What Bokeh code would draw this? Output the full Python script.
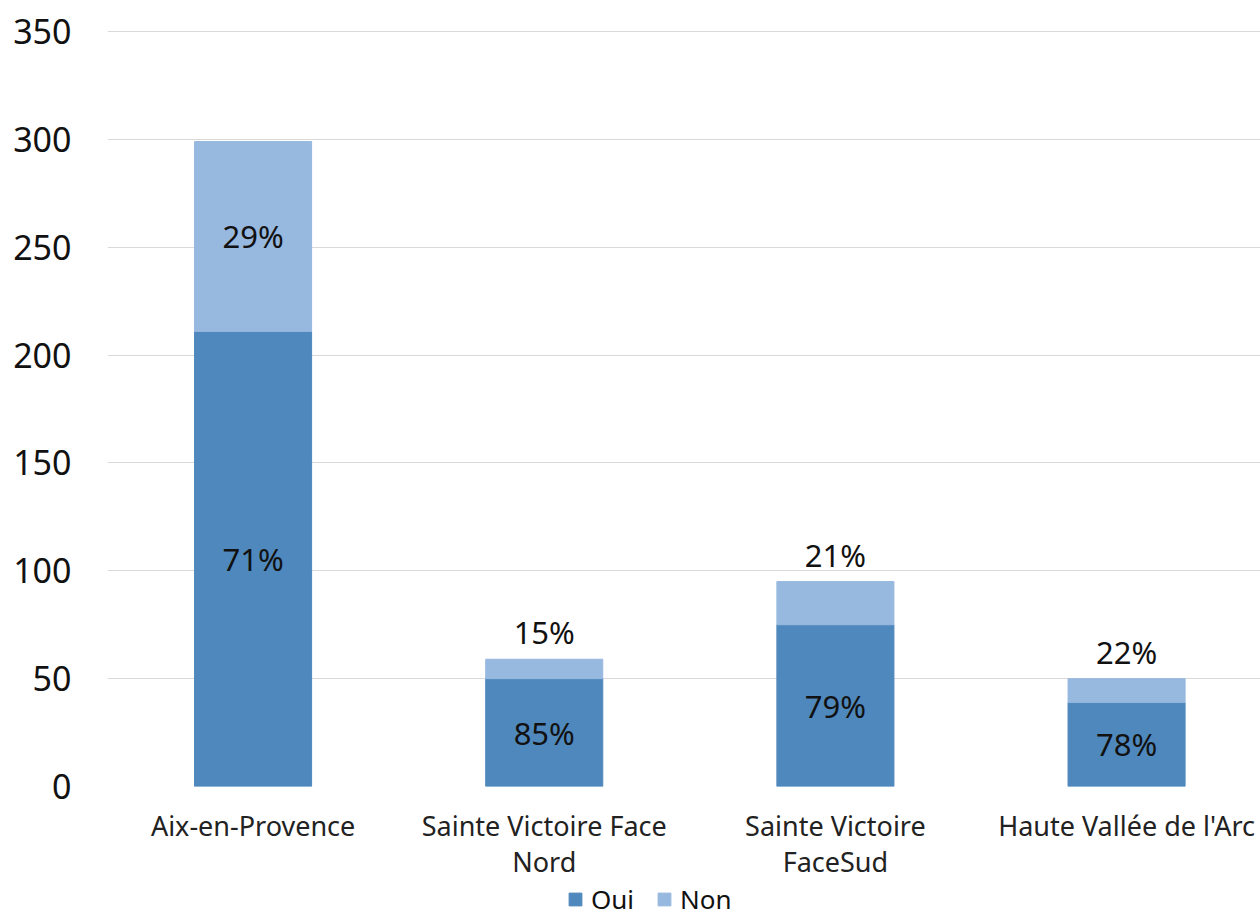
from bokeh.plotting import figure
from bokeh.layouts import column
from bokeh.models import Range1d, FixedTicker, Legend, LegendItem, ColumnDataSource, LinearAxis
from bokeh.core.properties import value
from bokeh.embed import file_html
from bokeh.resources import INLINE

categories_line1 = ["Aix-en-Provence", "Sainte Victoire Face", "Sainte Victoire", "Haute Vallée de l'Arc"]
categories_line2 = ["", "Nord", "FaceSud", ""]
oui = [211, 50, 75, 39]
non = [88, 9, 20, 11]
pct_oui = ["71%", "85%", "79%", "78%"]
pct_non = ["29%", "15%", "21%", "22%"]
y_ticks = [0, 50, 100, 150, 200, 250, 300, 350]

FONT = "Noto Sans"
C_OUI = "#4F88BC"
C_NON = "#97B8DF"

xs = list(range(len(categories_line1)))
total = [o + n for o, n in zip(oui, non)]

p = figure(width=1260, height=882, output_backend="svg", toolbar_location=None,
           x_range=Range1d(-0.5, 3.46), y_range=Range1d(0, 350.5),
           min_border_left=107, min_border_right=0, min_border_top=30, min_border_bottom=96)
p.outline_line_color = None
p.background_fill_color = "white"

src = ColumnDataSource(dict(x=xs, oui=oui, non=non, total=total))
r_oui = p.vbar(x="x", bottom=0, top="oui", width=0.402, color=C_OUI, source=src)
r_non = p.vbar(x="x", bottom="oui", top="total", width=0.402, color=C_NON, source=src)

# labels
lab_oui = ColumnDataSource(dict(x=xs, y=[o / 2 for o in oui], t=pct_oui))
p.text(x="x", y="y", text="t", source=lab_oui, text_align="center", text_baseline="middle",
       text_font=value(FONT), text_font_size="31px", text_color="#111111")

in_x, in_y, in_t, out_x, out_y, out_t = [], [], [], [], [], []
for i in xs:
    if non[i] > 30:
        in_x.append(i); in_y.append(oui[i] + non[i] / 2); in_t.append(pct_non[i])
    else:
        out_x.append(i); out_y.append(total[i]); out_t.append(pct_non[i])
p.text(x=in_x, y=in_y, text=in_t, text_align="center", text_baseline="middle",
       text_font=value(FONT), text_font_size="31px", text_color="#111111")
p.text(x=out_x, y=out_y, text=out_t, text_align="center", text_baseline="bottom", y_offset=-6,
       text_font=value(FONT), text_font_size="31px", text_color="#111111")

def style_x(ax, labels, standoff):
    ax.ticker = FixedTicker(ticks=xs)
    ax.major_label_overrides = {i: c for i, c in enumerate(labels)}
    ax.major_label_text_font = FONT
    ax.major_label_text_font_size = "27px"
    ax.major_label_text_color = "#222222"
    ax.major_label_standoff = standoff
    ax.axis_line_color = None
    ax.major_tick_line_color = None
    ax.minor_tick_line_color = None
    ax.major_tick_out = 0
    ax.major_tick_in = 0

style_x(p.xaxis[0], categories_line1, 20)
ax2 = LinearAxis()
style_x(ax2, categories_line2, -4)
p.add_layout(ax2, "below")

p.yaxis.ticker = FixedTicker(ticks=y_ticks)
p.yaxis.major_label_text_font = FONT
p.yaxis.major_label_text_font_size = "34px"
p.yaxis.major_label_text_color = "#111111"
p.yaxis.major_label_standoff = 36
p.yaxis.axis_line_color = None
p.yaxis.major_tick_line_color = None
p.yaxis.minor_tick_line_color = None
p.yaxis.major_tick_out = 0

p.xgrid.grid_line_color = None
p.ygrid.grid_line_color = "#D9D9D9"
p.ygrid.grid_line_width = 1

# legend strip below the chart (its frame is aligned with the chart frame)
lf = figure(width=1260, height=35, output_backend="svg", toolbar_location=None,
            x_range=Range1d(0, 1), y_range=Range1d(0, 1),
            min_border_left=0, min_border_right=0, min_border_top=0, min_border_bottom=0)
lf.axis.visible = False
lf.grid.visible = False
lf.outline_line_color = None
hidden = ColumnDataSource(dict(x=[-5], top=[0]))
l_oui = lf.vbar(x="x", top="top", width=0.1, color=C_OUI, source=hidden)
l_non = lf.vbar(x="x", top="top", width=0.1, color=C_NON, source=hidden)
legend = Legend(items=[LegendItem(label="Oui", renderers=[l_oui]),
                       LegendItem(label="Non", renderers=[l_non])],
                orientation="horizontal", location=(460, 0),
                label_text_font=FONT, label_text_font_size="26px", label_text_color="#111111",
                glyph_width=16, glyph_height=16, spacing=22, padding=0, margin=0,
                label_standoff=8,
                border_line_color=None, background_fill_alpha=0)
lf.add_layout(legend, "center")

layout = column(p, lf, spacing=0)
open("out.html", "w").write(file_html(layout, INLINE))
